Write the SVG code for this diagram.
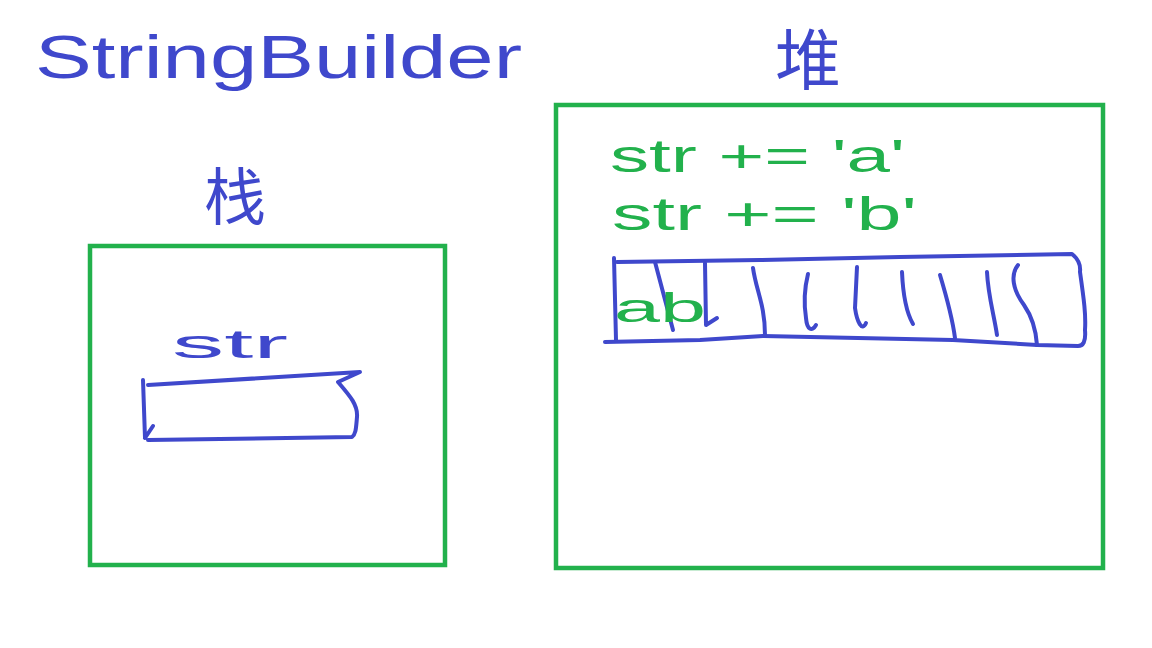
<svg xmlns="http://www.w3.org/2000/svg" width="1152" height="648" viewBox="0 0 1152 648">
  <style>
    .ink-blue { fill: none; stroke: #3f48cc; stroke-width: 4; stroke-linecap: round; stroke-linejoin: round; }
    .frame { fill: none; stroke: #22b14c; stroke-width: 4.5; }
    .t-blue { fill: #3f48cc; font-family: "Liberation Sans", "Noto Sans CJK SC", sans-serif; }
    .t-green { fill: #22b14c; font-family: "Liberation Sans", sans-serif; }
    .cjk { fill: #3f48cc; font-family: "Noto Sans CJK SC", sans-serif; }
  </style>
  <rect width="1152" height="648" fill="#ffffff"/>

  <!-- title -->
  <g id="title">
    <text class="t-blue" x="35" y="78" font-size="62" textLength="487" lengthAdjust="spacingAndGlyphs">StringBuilder</text>
  </g>

  <!-- stack area -->
  <g id="stack">
    <text class="cjk" x="235" y="220" font-size="62" text-anchor="middle">栈</text>
    <rect class="frame" x="90" y="246" width="355" height="319"/>
  </g>

  <!-- local variable slot on the stack -->
  <g id="stack-var">
    <text class="t-blue" x="172" y="358" font-size="40" textLength="116" lengthAdjust="spacingAndGlyphs">str</text>
    <path class="ink-blue" d="M148 385 L360 372 L338 382 C350 396 358 405 357 417 C356 428 356 434 352 437 L148 440 M143 380 L145 438 M153 426 L145 438"/>
  </g>

  <!-- heap area -->
  <g id="heap">
    <text class="cjk" x="808" y="84" font-size="66" text-anchor="middle">堆</text>
    <rect class="frame" x="556" y="105" width="547" height="463"/>
  </g>

  <!-- append statements -->
  <g id="appends">
    <text class="t-green" x="610" y="172" font-size="46" textLength="295" lengthAdjust="spacingAndGlyphs">str += 'a'</text>
    <text class="t-green" x="612" y="230" font-size="46" textLength="305" lengthAdjust="spacingAndGlyphs">str += 'b'</text>
  </g>

  <!-- char buffer inside the heap -->
  <g id="buffer">
    <path class="ink-blue" d="M617 262 L760 260 L900 257 L1072 254 C1082 262 1080 270 1080 272 C1084 300 1086 315 1085 330 C1086 342 1083 346 1078 346 L1037 345 L953 340 L763 336 L700 340 L605 342"/>
    <path class="ink-blue" d="M614 258 L616 340"/>
    <path class="ink-blue" d="M655 262 L673 330"/>
    <path class="ink-blue" d="M705 263 L706 325 L717 318"/>
    <path class="ink-blue" d="M753 268 C756 290 765 305 765 335"/>
    <path class="ink-blue" d="M808 274 C804 290 804 305 806 318 C807 330 812 332 816 325"/>
    <path class="ink-blue" d="M857 267 L855 308 C857 322 862 332 866 323"/>
    <path class="ink-blue" d="M902 272 C903 295 906 312 913 324"/>
    <path class="ink-blue" d="M940 275 C946 295 952 315 955 338"/>
    <path class="ink-blue" d="M987 272 C988 295 994 315 997 335"/>
    <path class="ink-blue" d="M1018 265 C1010 275 1013 290 1024 305 C1033 318 1036 330 1037 345"/>
    <text class="t-green" x="614" y="322" font-size="40" textLength="92" lengthAdjust="spacingAndGlyphs">ab</text>
  </g>
</svg>
